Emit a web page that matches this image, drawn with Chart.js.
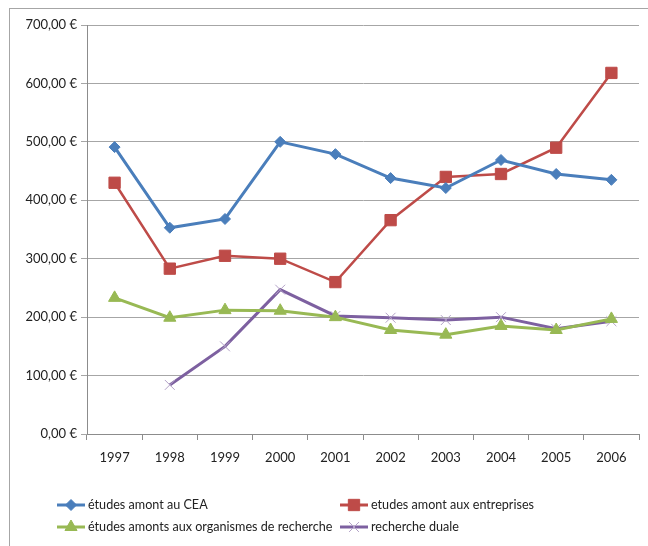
<!DOCTYPE html>
<html>
<head>
<meta charset="utf-8">
<script src="https://cdn.jsdelivr.net/npm/chart.js@4"></script>
<style>
  body { margin: 0; background: #fff; }
  #wrap { position: relative; width: 648px; height: 546px; overflow: hidden; }
  #frame { position: absolute; left: 9px; top: 8px; width: 700px; height: 600px; border: 1px solid #a6a6a6; }
  canvas { position: absolute; left: 0; top: 0; }
</style>
</head>
<body>
<div id="wrap">
  <div id="frame"></div>
  <canvas id="chart" width="648" height="546"></canvas>
</div>
<script>
const years = ["1997", "1998", "1999", "2000", "2001", "2002", "2003", "2004", "2005", "2006"];
const etudesCEA = [491, 353, 368, 500, 479, 438, 421, 469, 445, 435];
const etudesEntreprises = [430, 283, 305, 300, 260, 366, 440, 445, 490, 618];
const etudesOrganismes = [233, 199, 212, 211, 200, 178, 170, 185, 178, 197];
const rechercheDuale = [null, 84, 150, 247, 202, 199, 195, 200, 180, 193];
const yTicks = [0, 100, 200, 300, 400, 500, 600, 700];

const FONT = "Lato, 'Open Sans', sans-serif";

const fmtEuro = (v) => v.toFixed(2).replace(".", ",") + " €";

// legende a la Excel : trait + marqueur, 2 colonnes
const legendPlugin = {
  id: "excelLegend",
  afterDraw: (chart) => {
    const ctx = chart.ctx;
    const pos = [[57, 505], [340, 505], [57, 527], [340, 527]];
    chart.data.datasets.forEach((ds, i) => {
      const [x, y] = pos[i];
      ctx.save();
      ctx.strokeStyle = ds.borderColor;
      ctx.lineWidth = 3;
      ctx.beginPath();
      ctx.moveTo(x, y);
      ctx.lineTo(x + 28, y);
      ctx.stroke();
      ctx.fillStyle = ds.pointBackgroundColor;
      ctx.strokeStyle = ds.pointBorderColor;
      ctx.lineWidth = ds.pointBorderWidth;
      Chart.helpers.drawPoint(ctx, {
        pointStyle: ds.pointStyle,
        radius: ds.pointRadius,
        borderWidth: ds.pointBorderWidth
      }, x + 14, y);
      ctx.restore();
      ctx.save();
      ctx.fillStyle = "#222";
      ctx.font = "12.6px " + FONT;
      ctx.textBaseline = "middle";
      ctx.fillText(ds.label, x + 31, y);
      ctx.restore();
    });
  }
};

const mkSet = (label, data, color, style, radius, ptBorder, ptBorderW, width) => ({
  label: label,
  data: data,
  borderColor: color,
  backgroundColor: color,
  borderWidth: width,
  pointStyle: style,
  pointRadius: radius,
  pointHoverRadius: radius,
  pointBackgroundColor: color,
  pointBorderColor: ptBorder,
  pointBorderWidth: ptBorderW,
  tension: 0
});

const ctx = document.querySelector("#chart").getContext("2d");
const myChart = new Chart(ctx, {
  type: "line",
  data: {
    labels: years,
    datasets: [
      mkSet("études amont au CEA", etudesCEA, "#4a7ebb", "rectRot", 5.5, "#4a7ebb", 1, 3),
      mkSet("etudes amont aux entreprises", etudesEntreprises, "#be4b48", "rect", 8, "#be4b48", 1, 2.5),
      mkSet("études amonts aux organismes de recherche", etudesOrganismes, "#98b954", "triangle", 7, "#98b954", 1, 3),
      mkSet("recherche duale", rechercheDuale, "#7d60a0", "crossRot", 7, "#b3a2c7", 1, 3)
    ]
  },
  plugins: [legendPlugin],
  options: {
    responsive: false,
    animation: false,
    layout: { padding: { left: 0, top: 25, right: 3, bottom: 76 } },
    plugins: {
      legend: false,
      tooltip: { enabled: false }
    },
    scales: {
      x: {
        offset: true,
        grid: { offset: true, drawOnChartArea: false, drawTicks: true, tickLength: 6, color: "#8c8c8c" },
        border: { color: "#8c8c8c" },
        ticks: { color: "#222", font: { family: FONT, size: 13 }, padding: 10, maxRotation: 0 },
        afterFit: (scale) => { scale.height = 36; }
      },
      y: {
        min: 0,
        max: 700,
        afterBuildTicks: (scale) => { scale.ticks = yTicks.map((v) => ({ value: v })); },
        grid: { color: "#a6a6a6", tickLength: 6 },
        border: { color: "#8c8c8c" },
        ticks: { color: "#222", font: { family: FONT, size: 13 }, padding: 4, callback: (v) => fmtEuro(v) },
        afterFit: (scale) => { scale.width = 87; }
      }
    }
  }
});
</script>
</body>
</html>
